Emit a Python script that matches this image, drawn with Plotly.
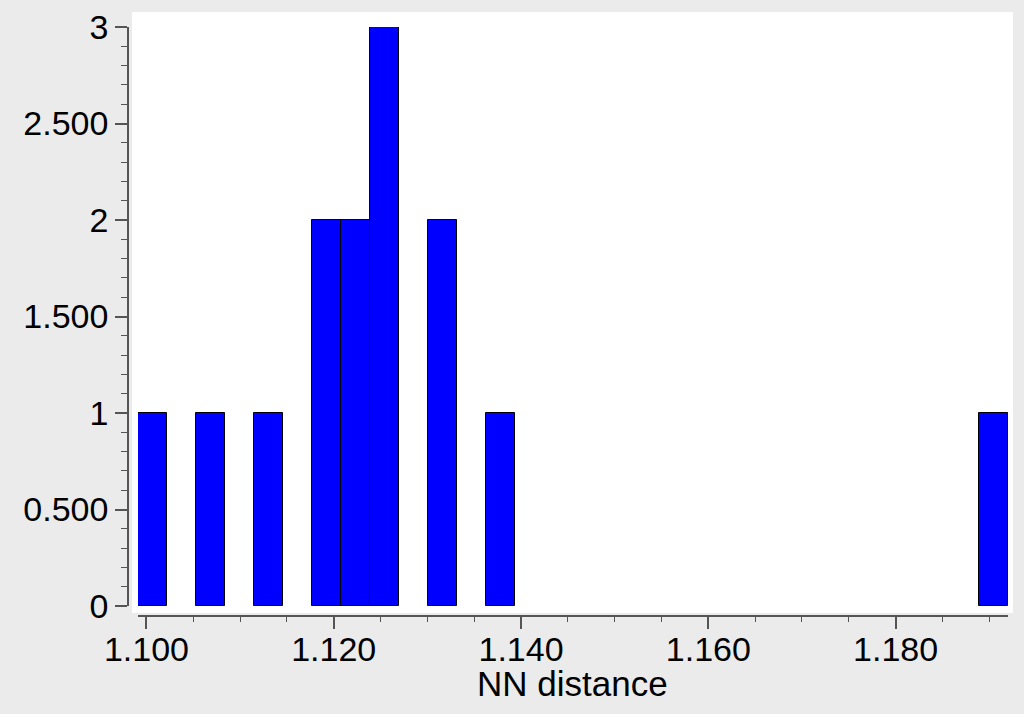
import numpy as np
import plotly.graph_objects as go

# ---- data ----
hist_min = 1.0991
hist_max = 1.1920
n_bins = 30
counts = [1, 0, 1, 0, 1, 0, 2, 2, 3, 0,
          2, 0, 1, 0, 0, 0, 0, 0, 0, 0,
          0, 0, 0, 0, 0, 0, 0, 0, 0, 1]

y_tickvals = [0, 0.5, 1, 1.5, 2, 2.5, 3]
y_ticktext = ["0", "0.500", "1", "1.500", "2", "2.500", "3"]
x_tickvals = [1.10, 1.12, 1.14, 1.16, 1.18]
x_ticktext = ["1.100", "1.120", "1.140", "1.160", "1.180"]
x_title = "NN distance"

# ---- layout constants (pixels in a 1024x714 page) ----
W, H = 1024, 714
def px(x):
    return x / W
def py(y):
    return 1 - y / H

edges = np.linspace(hist_min, hist_max, n_bins + 1)
width = edges[1] - edges[0]
centers = (edges[:-1] + edges[1:]) / 2
cnt = np.array(counts)
mask = cnt > 0

font_family = "Liberation Sans, Arial, Helvetica, sans-serif"
axis_col = "#555555"

fig = go.Figure()
fig.add_trace(go.Bar(
    x=centers[mask], y=cnt[mask], width=width,
    marker=dict(color="#0000ff", line=dict(color="#000000", width=1)),
    cliponaxis=False, showlegend=False, hoverinfo="x+y",
))

fig.update_layout(
    template="none",
    width=W, height=H,
    margin=dict(l=0, r=0, t=0, b=0),
    paper_bgcolor="#ebebeb",
    plot_bgcolor="rgba(0,0,0,0)",
    font=dict(family=font_family, size=34, color="#000000"),
    bargap=0,
    shapes=[dict(type="rect", xref="paper", yref="paper",
                 x0=px(132), x1=px(1013), y0=py(613), y1=py(12),
                 fillcolor="#ffffff", line=dict(width=0), layer="below")],
    annotations=[dict(text=x_title, xref="paper", yref="paper",
                      x=px(572), y=py(683), xanchor="center", yanchor="middle",
                      showarrow=False, font=dict(size=35, color="#000000"))],
    xaxis=dict(
        domain=[px(138), px(1008)],
        range=[hist_min, hist_max],
        anchor="free", position=py(616),
        showline=True, linecolor=axis_col, linewidth=1.5,
        showgrid=False, zeroline=False,
        tickmode="array", tickvals=x_tickvals, ticktext=x_ticktext,
        ticks="outside", ticklen=12, tickwidth=1.5, tickcolor=axis_col,
        minor=dict(tickmode="linear", tick0=1.1, dtick=0.005, ticks="outside",
                   ticklen=5, tickwidth=1.2, tickcolor=axis_col, showgrid=False),
        tickfont=dict(size=34),
        ticklabelstandoff=-9,
        automargin=False,
    ),
    yaxis=dict(
        domain=[py(606), py(27)],
        range=[0, 3],
        anchor="free", position=px(128),
        showline=True, linecolor=axis_col, linewidth=1.5,
        showgrid=False, zeroline=False,
        tickmode="array", tickvals=y_tickvals, ticktext=y_ticktext,
        ticks="outside", ticklen=12, tickwidth=1.5, tickcolor=axis_col,
        minor=dict(tickmode="linear", tick0=0, dtick=0.1, ticks="outside",
                   ticklen=6, tickwidth=1.2, tickcolor=axis_col, showgrid=False),
        tickfont=dict(size=34),
        automargin=False,
    ),
)

fig.write_html("out.html", config={"displayModeBar": False},
               post_script="document.body.style.margin='0px';document.body.style.overflow='hidden';")
